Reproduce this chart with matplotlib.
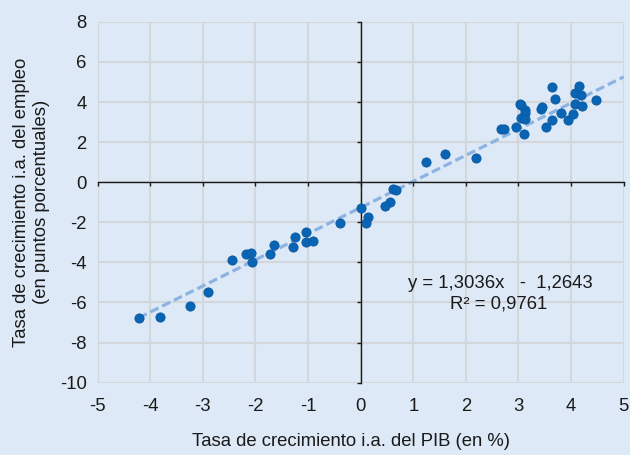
import matplotlib
matplotlib.use("Agg")
import matplotlib.pyplot as plt
import numpy as np

plt.rcParams['font.family'] = ['Liberation Sans', 'DejaVu Sans']

# crecimiento PIB (x) vs crecimiento empleo (y)
x_pib = [2.67, 2.72, 2.96, 3.02, 3.04, 3.10, 3.12, 3.13, 3.05, 3.13, 3.42, 3.45,
         3.53, 3.64, 3.69, 3.64, 3.81, 3.95, 4.04, 4.07, 4.15, 4.18, 4.08, 4.21, 4.47,
         1.24, 1.61, 2.19,
         0.61, 0.67, 0.55, 0.46, 0.00, 0.13, 0.10, -0.39,
         -4.22, -3.81, -3.25, -2.91, -2.44, -2.18, -2.08, -2.06, -1.73, -1.65,
         -1.28, -1.25, -1.03, -1.03, -0.91]
y_empleo = [2.63, 2.63, 2.73, 3.92, 3.83, 2.39, 3.59, 3.43, 3.18, 3.13, 3.63, 3.76,
            2.76, 4.75, 4.17, 3.09, 3.46, 3.09, 3.42, 4.45, 4.79, 4.34, 3.92, 3.79, 4.09,
            1.03, 1.43, 1.23,
            -0.36, -0.40, -1.00, -1.21, -1.31, -1.76, -2.03, -2.05,
            -6.77, -6.72, -6.20, -5.49, -3.89, -3.57, -3.51, -3.97, -3.56, -3.11,
            -3.24, -2.73, -2.48, -2.99, -2.93]

slope, intercept, r2 = 1.3036, -1.2643, 0.9761
x_ticks = list(range(-5, 6))
y_ticks = list(range(-10, 9, 2))

bg = '#dde9f6'
txt = '#1a1a1a'
fs = 13.3
fig = plt.figure(figsize=(6.3, 4.55), dpi=100, facecolor=bg)
ax = fig.add_axes([0.155, 0.159, 0.835, 0.793], facecolor=bg)

ax.set_xlim(-5, 5)
ax.set_ylim(-10, 8)
ax.set_xticks(x_ticks)
ax.set_yticks(y_ticks)
ax.grid(True, color='#d3d6da', linewidth=1.5, zorder=0)
ax.set_axisbelow(True)

# ejes cruzando en el origen, etiquetas en los bordes
for side in ['top', 'right']:
    ax.spines[side].set_visible(False)
ax.spines['left'].set_position(('data', 0))
ax.spines['bottom'].set_position(('data', 0))
for side in ['left', 'bottom']:
    ax.spines[side].set_color(txt)
    ax.spines[side].set_linewidth(1.0)
ax.tick_params(direction='out', length=3, width=1.0, color=txt,
               labelleft=False, labelbottom=False)

secx = ax.secondary_xaxis('bottom')
secx.set_xticks(x_ticks)
secx.set_xticklabels([str(t) for t in x_ticks])
secx.spines['bottom'].set_visible(False)
secx.tick_params(length=0, pad=11, labelsize=fs, labelcolor=txt)

secy = ax.secondary_yaxis('left')
secy.set_yticks(y_ticks)
secy.set_yticklabels([str(t) for t in y_ticks])
secy.spines['left'].set_visible(False)
secy.tick_params(length=0, pad=8, labelsize=fs, labelcolor=txt)

# línea de tendencia
xt = np.array([min(x_pib), 5])
ax.plot(xt, slope * xt + intercept, color='#8db3e2', linewidth=2.3,
        dashes=(2.8, 1.3), zorder=2)

ax.scatter(x_pib, y_empleo, s=44, color='#0964b4', edgecolors='#0a5aa2',
           linewidths=0.6, zorder=3, clip_on=False)

ax.text(2.65, -5.05, 'y = 1,3036x   -  1,2643', ha='center', va='center',
        fontsize=fs, color=txt)
ax.text(2.62, -6.1, 'R² = 0,9761', ha='center', va='center',
        fontsize=fs, color=txt)

fig.text(0.557, 1 - 441 / 455, 'Tasa de crecimiento i.a. del PIB (en %)',
         ha='center', va='center', fontsize=fs, color=txt)
fig.text(0.05, 1 - 202 / 455,
         'Tasa de crecimiento i.a. del empleo\n(en puntos porcentuales)',
         ha='center', va='center', rotation=90, fontsize=fs,
         color=txt, linespacing=1.2)

fig.savefig('out.png', dpi=100, facecolor=bg)
